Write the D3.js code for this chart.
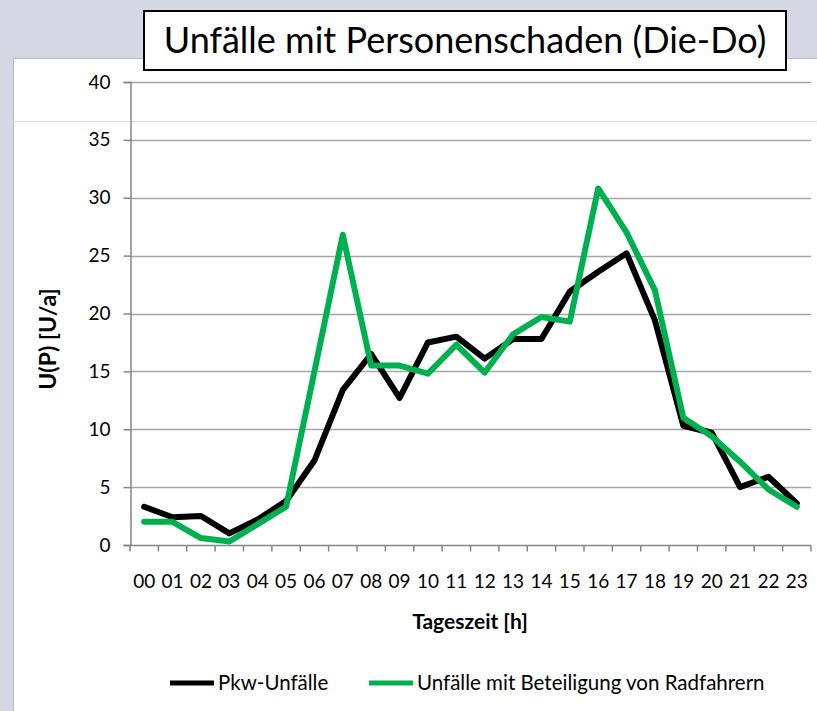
<!DOCTYPE html>
<html>
<head>
<meta charset="utf-8">
<script src="https://cdn.jsdelivr.net/npm/d3@7"></script>
<style>
  html, body { margin: 0; padding: 0; background: #d5d8e4; }
  svg { display: block; font-family: Lato, "Open Sans", sans-serif; }
</style>
</head>
<body>
<svg id="chart" width="817" height="711"></svg>
<script>
// Hourly accident counts (Tuesday–Thursday)
const hours = ["00","01","02","03","04","05","06","07","08","09","10","11",
               "12","13","14","15","16","17","18","19","20","21","22","23"];
const pkwUnfaelle = [3.3, 2.4, 2.5, 1.0, 2.2, 3.8, 7.3, 13.4, 16.5, 12.7, 17.5, 18.0,
                     16.1, 17.8, 17.8, 21.9, 23.6, 25.2, 19.4, 10.3, 9.7, 5.0, 5.9, 3.6];
const radUnfaelle = [2.0, 2.0, 0.6, 0.3, 1.8, 3.3, 15.0, 26.8, 15.5, 15.5, 14.8, 17.3,
                     14.9, 18.2, 19.7, 19.3, 30.8, 27.0, 22.0, 11.0, 9.4, 7.2, 4.8, 3.3];
const yTicks = [0, 5, 10, 15, 20, 25, 30, 35, 40];
const seriesNames = ["Pkw-Unfälle", "Unfälle mit Beteiligung von Radfahrern"];
const seriesColors = ["#000000", "#00b050"];

const svg = d3.select("#chart");

// chart area panel
svg.append("rect").attr("x", 13.5).attr("y", 58.5).attr("width", 810).attr("height", 660)
  .attr("fill", "#ffffff").attr("stroke", "#b8bbc6").attr("stroke-width", 1);
svg.append("line").attr("x1", 13).attr("x2", 817).attr("y1", 121.5).attr("y2", 121.5)
  .attr("stroke", "#d9dbe2").attr("stroke-width", 1);

const margin = { left: 130, right: 811, top: 82, bottom: 545 };
const x = d3.scaleBand().domain(hours).range([margin.left, margin.right]);
const y = d3.scaleLinear().domain([0, 40]).range([margin.bottom, margin.top]);

// horizontal gridlines
svg.append("g").selectAll("line").data(yTicks.filter(d => d > 0)).join("line")
  .attr("x1", margin.left).attr("x2", margin.right)
  .attr("y1", d => Math.round(y(d)) + 0.5).attr("y2", d => Math.round(y(d)) + 0.5)
  .attr("stroke", "#a6a6a6").attr("stroke-width", 1.5);

// y axis
const yAxis = svg.append("g").attr("transform", `translate(${margin.left + 0.5},0)`)
  .call(d3.axisLeft(y).tickValues(yTicks).tickSize(7).tickPadding(13));
yAxis.select(".domain").attr("stroke", "#868686").attr("stroke-width", 1.5);
yAxis.selectAll(".tick line").attr("stroke", "#868686").attr("stroke-width", 1.5);
yAxis.selectAll(".tick text").attr("font-size", 19).attr("fill", "#000")
  .attr("font-family", "Lato, sans-serif");

// x axis with tick marks between categories
const xAxisG = svg.append("g").attr("transform", `translate(0,${margin.bottom + 0.5})`);
xAxisG.append("line").attr("x1", margin.left).attr("x2", margin.right)
  .attr("stroke", "#868686").attr("stroke-width", 1.5);
const boundaries = hours.map(h => x(h)).concat([x(hours[hours.length - 1]) + x.bandwidth()]);
xAxisG.selectAll("line.tk").data(boundaries).join("line").attr("class", "tk")
  .attr("x1", d => d).attr("x2", d => d).attr("y1", 0).attr("y2", 6)
  .attr("stroke", "#868686").attr("stroke-width", 1.5);
xAxisG.selectAll("text").data(hours).join("text")
  .attr("x", d => x(d) + x.bandwidth() / 2).attr("y", 42)
  .attr("text-anchor", "middle").attr("font-size", 19).attr("fill", "#000")
  .text(d => d);

// series lines
const line = d3.line()
  .x((d, i) => x(hours[i]) + x.bandwidth() / 2)
  .y(d => y(d));
[pkwUnfaelle, radUnfaelle].forEach((vals, k) => {
  svg.append("path").datum(vals).attr("d", line)
    .attr("fill", "none").attr("stroke", seriesColors[k])
    .attr("stroke-width", 6).attr("stroke-linejoin", "round").attr("stroke-linecap", "round");
});

// axis titles
svg.append("text").attr("x", 470).attr("y", 629).attr("text-anchor", "middle")
  .attr("font-size", 21).attr("font-weight", "bold").text("Tageszeit [h]");
svg.append("text").attr("transform", "translate(56,339) rotate(-90)")
  .attr("text-anchor", "middle").attr("font-size", 23).attr("font-weight", "bold")
  .text("U(P) [U/a]");

// legend
const legendItems = [{ x: 170, name: seriesNames[0], color: seriesColors[0] },
                     { x: 369, name: seriesNames[1], color: seriesColors[1] }];
const lg = svg.append("g").selectAll("g").data(legendItems).join("g")
  .attr("transform", d => `translate(${d.x},683)`);
lg.append("line").attr("x1", 0).attr("x2", 44).attr("y1", 0).attr("y2", 0)
  .attr("stroke", d => d.color).attr("stroke-width", 5);
lg.append("text").attr("x", 48).attr("y", 7).attr("font-size", 20.5).text(d => d.name);

// title box
svg.append("rect").attr("x", 144).attr("y", 11).attr("width", 642).attr("height", 59)
  .attr("fill", "#fff").attr("stroke", "#000").attr("stroke-width", 2);
svg.append("text").attr("x", 465).attr("y", 53).attr("text-anchor", "middle")
  .attr("font-size", 36).text("Unfälle mit Personenschaden (Die-Do)");
</script>
</body>
</html>
